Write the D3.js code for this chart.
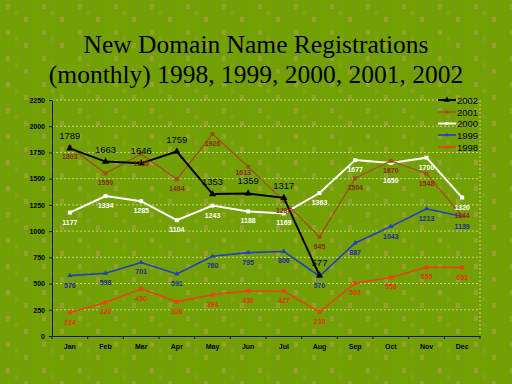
<!DOCTYPE html>
<html><head><meta charset="utf-8">
<script src="https://cdn.jsdelivr.net/npm/d3@7"></script>
<style>html,body{margin:0;padding:0;background:#74a000;}svg{display:block;}</style>
</head><body>
<svg id="chart" width="512" height="384"></svg>
<script>
const months = ["Jan","Feb","Mar","Apr","May","Jun","Jul","Aug","Sep","Oct","Nov","Dec"];
const yTicks = [0,250,500,750,1000,1250,1500,1750,2000,2250];
const v2002 = [1789,1663,1646,1759,1353,1359,1317,577];
const v2001 = [1803,1550,1736,1494,1926,1613,1286,945,1504,1670,1548,1144];
const v2000 = [1177,1334,1285,1104,1243,1188,1169,1363,1677,1650,1700,1320];
const v1999 = [576,598,701,591,760,795,806,570,887,1043,1213,1139];
const v1998 = [224,320,450,326,394,430,427,230,503,558,655,653];
const seriesNames = ["2002","2001","2000","1999","1998"];

const series = [
  {name:"2002", values:v2002, line:"#000000", label:"#000000", marker:"tri", msize:7, lsize:9.5, weight:"normal", dy:-9, width:2},
  {name:"2001", values:v2001, line:"#a0501c", label:"#8a2a10", marker:"sq", msize:4, lsize:7, weight:"bold", dy:12, width:1.3},
  {name:"2000", values:v2000, line:"#ffffff", label:"#ffffff", marker:"sq", msize:4, lsize:7, weight:"bold", dy:12, width:2},
  {name:"1999", values:v1999, line:"#2040c0", label:"#1c2c98", marker:"tri", msize:5, lsize:7, weight:"bold", dy:12, width:1.6},
  {name:"1998", values:v1998, line:"#e84414", label:"#e03410", marker:"sq", msize:4, lsize:7, weight:"bold", dy:12, width:1.6}
];
const nudges = {"2001-5":[-5,-4], "2000-9":[0,8], "2001-11":[0,-10]};
const labelOrder = ["2001","2000","2002","1999","1998"];

const svg = d3.select("#chart");
const defs = svg.append("defs");
const pat = defs.append("pattern").attr("id","tex").attr("patternUnits","userSpaceOnUse").attr("width",36).attr("height",26);
pat.append("rect").attr("width",36).attr("height",26).attr("fill","#74a000");
[0,9,18,27].forEach(sx=>pat.append("rect").attr("x",sx+2).attr("width",3).attr("height",26).attr("fill","#719e0c"));
pat.append("rect").attr("x",6).attr("y",4).attr("width",4).attr("height",5).attr("fill","#96a02e");
pat.append("rect").attr("x",24).attr("y",17).attr("width",4).attr("height",5).attr("fill","#96a02e");
pat.append("rect").attr("x",15).attr("y",11).attr("width",3).attr("height",4).attr("fill","#86a01c");
svg.append("rect").attr("width",512).attr("height",384).attr("fill","url(#tex)");

const title = svg.append("text").attr("text-anchor","middle").attr("font-family","'Liberation Serif','Times New Roman',serif").attr("font-size",25.5).attr("fill","#000");
title.append("tspan").attr("x",256).attr("y",53).text("New Domain Name Registrations");
title.append("tspan").attr("x",256).attr("y",83).text("(monthly) 1998, 1999, 2000, 2001, 2002");

const pL = 52, pR = 480, pT = 100, pB = 336;
const x = d3.scaleBand().domain(months).range([pL,pR]);
const y = d3.scaleLinear().domain([0,2250]).range([pB,pT]);
const cx = m => x(m) + x.bandwidth()/2;

svg.append("g").selectAll("line").data(yTicks.filter(d=>d>0)).join("line")
  .attr("x1",pL).attr("x2",pR).attr("y1",d=>y(d)).attr("y2",d=>y(d))
  .attr("stroke","#d8e4a0").attr("stroke-width",0.8).attr("stroke-dasharray","2,2");
svg.append("line").attr("x1",pR).attr("x2",pR).attr("y1",pT).attr("y2",pB)
  .attr("stroke","#d8e4a0").attr("stroke-width",0.8).attr("stroke-dasharray","2,2");

const yAxis = svg.append("g").attr("transform",`translate(${pL},0)`)
  .call(d3.axisLeft(y).tickValues(yTicks).tickFormat(d3.format("d")).tickSize(3).tickPadding(4));
const xAxis = svg.append("g").attr("transform",`translate(0,${pB})`)
  .call(d3.axisBottom(x).tickSize(0).tickPadding(8));
[yAxis,xAxis].forEach(g=>{
  g.selectAll("path,line").attr("stroke","#1a1a1a").attr("stroke-width",1);
  g.selectAll("text").attr("font-family","'Liberation Sans',Arial,sans-serif").attr("font-weight","bold").attr("font-size",7).attr("fill","#000");
});
svg.append("g").selectAll("line").data(months).join("line")
  .attr("x1",d=>x(d)).attr("x2",d=>x(d)).attr("y1",pB).attr("y2",pB+3)
  .attr("stroke","#1a1a1a");
svg.append("line").attr("x1",pR).attr("x2",pR).attr("y1",pB).attr("y2",pB+3).attr("stroke","#1a1a1a");

function marker(g, type, size, color, px, py){
  if(type==="tri"){
    const sym = d3.symbol().type(d3.symbolTriangle).size(size*size*0.45);
    g.append("path").attr("d",sym()).attr("transform",`translate(${px},${py})`).attr("fill",color);
  } else {
    g.append("rect").attr("x",px-size/2).attr("y",py-size/2).attr("width",size).attr("height",size).attr("fill",color);
  }
}

const lineGen = d3.line().x((d,i)=>cx(months[i])).y(d=>y(d));
series.slice().reverse().forEach(s=>{
  const g = svg.append("g");
  g.append("path").datum(s.values).attr("d",lineGen).attr("fill","none").attr("stroke",s.line).attr("stroke-width",s.width);
  s.values.forEach((v,i)=>marker(g,s.marker,s.msize,s.line,cx(months[i]),y(v)));
});
labelOrder.map(n=>series.find(s=>s.name===n)).forEach(s=>{
  const g = svg.append("g");
  g.selectAll("text").data(s.values).join("text")
    .attr("x",(d,i)=>cx(months[i]) + ((nudges[s.name+"-"+i]||[0,0])[0]))
    .attr("y",(d,i)=>y(d)+s.dy + ((nudges[s.name+"-"+i]||[0,0])[1]))
    .attr("text-anchor","middle").attr("font-family","'Liberation Sans',Arial,sans-serif")
    .attr("font-weight",s.weight)
    .attr("font-size",s.lsize).attr("fill",s.label).text(d=>d);
});

const lg = svg.append("g");
const rowY = [100,112,123.5,135,147];
series.forEach((s,i)=>{
  lg.append("line").attr("x1",438).attr("x2",456).attr("y1",rowY[i]).attr("y2",rowY[i]).attr("stroke",s.line).attr("stroke-width",s.width);
  marker(lg,s.marker,s.msize-1,s.line,447,rowY[i]);
  lg.append("text").attr("x",457).attr("y",rowY[i]+3.5).attr("font-family","'Liberation Sans',Arial,sans-serif").attr("font-size",9.5).attr("fill","#000").text(seriesNames[i]);
});
</script>
</body></html>
